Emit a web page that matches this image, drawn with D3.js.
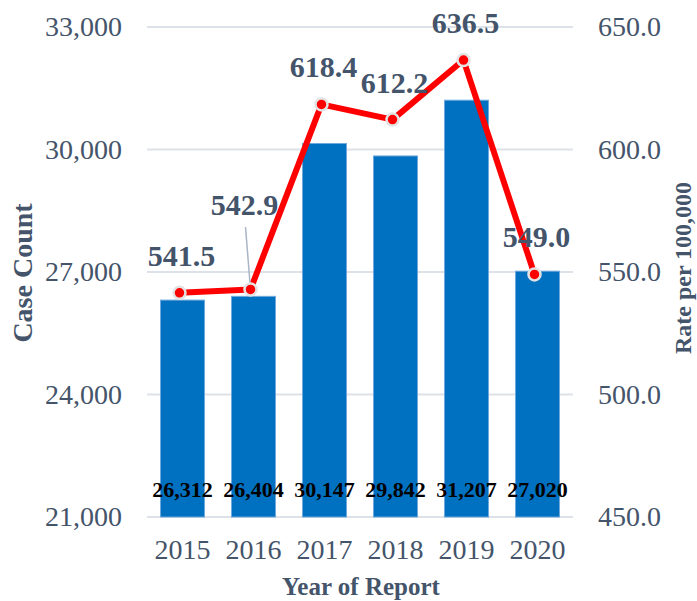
<!DOCTYPE html>
<html lang="en">
  <head>
    <meta charset="utf-8">
    <style>
      body { margin: 0; background: #fff; }
      text { font-family: "Liberation Serif", "Times New Roman", serif; }
    </style>
  </head>
  <body>
    <script src="https://cdn.jsdelivr.net/npm/d3@7"></script>
    <script>
      // chart data
      var years = ["2015", "2016", "2017", "2018", "2019", "2020"];
      var caseCounts = [26312, 26404, 30147, 29842, 31207, 27020];
      var rates = [541.5, 542.9, 618.4, 612.2, 636.5, 549.0];
      var countTicks = [21000, 24000, 27000, 30000, 33000];
      var rateTicks = [450, 500, 550, 600, 650];

      var width = 697, height = 601;
      var margin = {top: 27, right: 124, bottom: 84, left: 147};
      var textColor = "#44546A";

      var svg = d3.select("body")
        .append("svg")
        .attr("width", width)
        .attr("height", height);

      // scales
      var x = d3.scaleBand()
        .domain(years)
        .range([margin.left, width - margin.right])
        .paddingInner(0.38)
        .paddingOuter(0.19);
      var yLeft = d3.scaleLinear().domain([21000, 33000]).range([height - margin.bottom, margin.top]);
      var yRight = d3.scaleLinear().domain([450, 650]).range([height - margin.bottom, margin.top]);

      // gridlines
      svg.append("g")
        .selectAll("line")
        .data(countTicks)
        .enter()
        .append("line")
        .attr("x1", margin.left)
        .attr("x2", width - margin.right)
        .attr("y1", function(d) { return yLeft(d); })
        .attr("y2", function(d) { return yLeft(d); })
        .attr("stroke", "#DDE1E8")
        .attr("stroke-width", 2);

      // left axis
      var leftAxis = svg.append("g")
        .attr("transform", "translate(" + (margin.left - 25) + ",0)")
        .call(d3.axisLeft(yLeft).tickValues(countTicks).tickFormat(d3.format(",")).tickSize(0).tickPadding(0));
      leftAxis.select(".domain").remove();
      leftAxis.selectAll("text")
        .attr("font-family", "Liberation Serif")
        .attr("font-size", 28)
        .attr("fill", textColor);

      // right axis
      var rightAxis = svg.append("g")
        .attr("transform", "translate(" + (width - margin.right + 25) + ",0)")
        .call(d3.axisRight(yRight).tickValues(rateTicks).tickFormat(d3.format(".1f")).tickSize(0).tickPadding(0));
      rightAxis.select(".domain").remove();
      rightAxis.selectAll("text")
        .attr("font-family", "Liberation Serif")
        .attr("font-size", 28)
        .attr("fill", textColor);

      // bottom axis
      var bottomAxis = svg.append("g")
        .attr("transform", "translate(0," + (height - margin.bottom) + ")")
        .call(d3.axisBottom(x).tickSize(0).tickPadding(22));
      bottomAxis.select(".domain").remove();
      bottomAxis.selectAll("text")
        .attr("font-family", "Liberation Serif")
        .attr("font-size", 28)
        .attr("fill", textColor);

      // bars
      svg.selectAll(".bar")
        .data(caseCounts)
        .enter()
        .append("rect")
        .attr("class", "bar")
        .attr("x", function(d, i) { return x(years[i]); })
        .attr("width", x.bandwidth())
        .attr("y", function(d) { return yLeft(d); })
        .attr("height", function(d) { return yLeft(21000) - yLeft(d); })
        .attr("fill", "#0070C0")
        .attr("stroke", "#6FA8DC")
        .attr("stroke-width", 1);

      // bar labels near the base
      svg.selectAll(".barLabel")
        .data(caseCounts)
        .enter()
        .append("text")
        .attr("class", "barLabel")
        .attr("x", function(d, i) { return x(years[i]) + x.bandwidth() / 2; })
        .attr("y", yLeft(21000) - 20)
        .attr("text-anchor", "middle")
        .attr("font-size", 22)
        .attr("font-weight", "bold")
        .attr("fill", "#000")
        .text(function(d) { return d3.format(",")(d); });

      // rate line
      var cx = function(d, i) { return x(years[i]) + x.bandwidth() / 2 - 3; };
      var line = d3.line()
        .x(cx)
        .y(function(d) { return yRight(d); });

      svg.append("path")
        .datum(rates)
        .attr("d", line)
        .attr("fill", "none")
        .attr("stroke", "#FF0000")
        .attr("stroke-width", 6)
        .attr("stroke-linejoin", "round");

      // leader line for 2016 label
      svg.append("line")
        .attr("x1", cx(rates[1], 1) - 5)
        .attr("y1", 227)
        .attr("x2", cx(rates[1], 1))
        .attr("y2", yRight(rates[1]))
        .attr("stroke", "#A9B6C6")
        .attr("stroke-width", 1.5);

      svg.selectAll(".dot")
        .data(rates)
        .enter()
        .append("circle")
        .attr("class", "dot")
        .attr("cx", cx)
        .attr("cy", function(d) { return yRight(d); })
        .attr("r", 6)
        .attr("fill", "#FF0000")
        .attr("stroke", "#E3E3E3")
        .attr("stroke-width", 2.5);

      // rate labels
      svg.selectAll(".rateLabel")
        .data(rates)
        .enter()
        .append("text")
        .attr("class", "rateLabel")
        .attr("x", function(d, i) { return i === 1 ? cx(d, i) - 6 : cx(d, i) + 2; })
        .attr("y", function(d, i) { return yRight(d) - (i === 1 ? 74 : 27); })
        .attr("text-anchor", "middle")
        .attr("font-size", 30)
        .attr("font-weight", "bold")
        .attr("fill", textColor)
        .text(function(d) { return d3.format(".1f")(d); });

      // axis titles
      svg.append("text")
        .attr("transform", "translate(32,273) rotate(-90)")
        .attr("text-anchor", "middle")
        .attr("font-size", 28)
        .attr("font-weight", "bold")
        .attr("fill", textColor)
        .text("Case Count");

      svg.append("text")
        .attr("transform", "translate(691,268) rotate(-90)")
        .attr("text-anchor", "middle")
        .attr("font-size", 24)
        .attr("font-weight", "bold")
        .attr("fill", textColor)
        .text("Rate per 100,000");

      svg.append("text")
        .attr("x", 361)
        .attr("y", 595)
        .attr("text-anchor", "middle")
        .attr("font-size", 25)
        .attr("font-weight", "bold")
        .attr("fill", textColor)
        .text("Year of Report");
    </script>
  </body>
</html>
